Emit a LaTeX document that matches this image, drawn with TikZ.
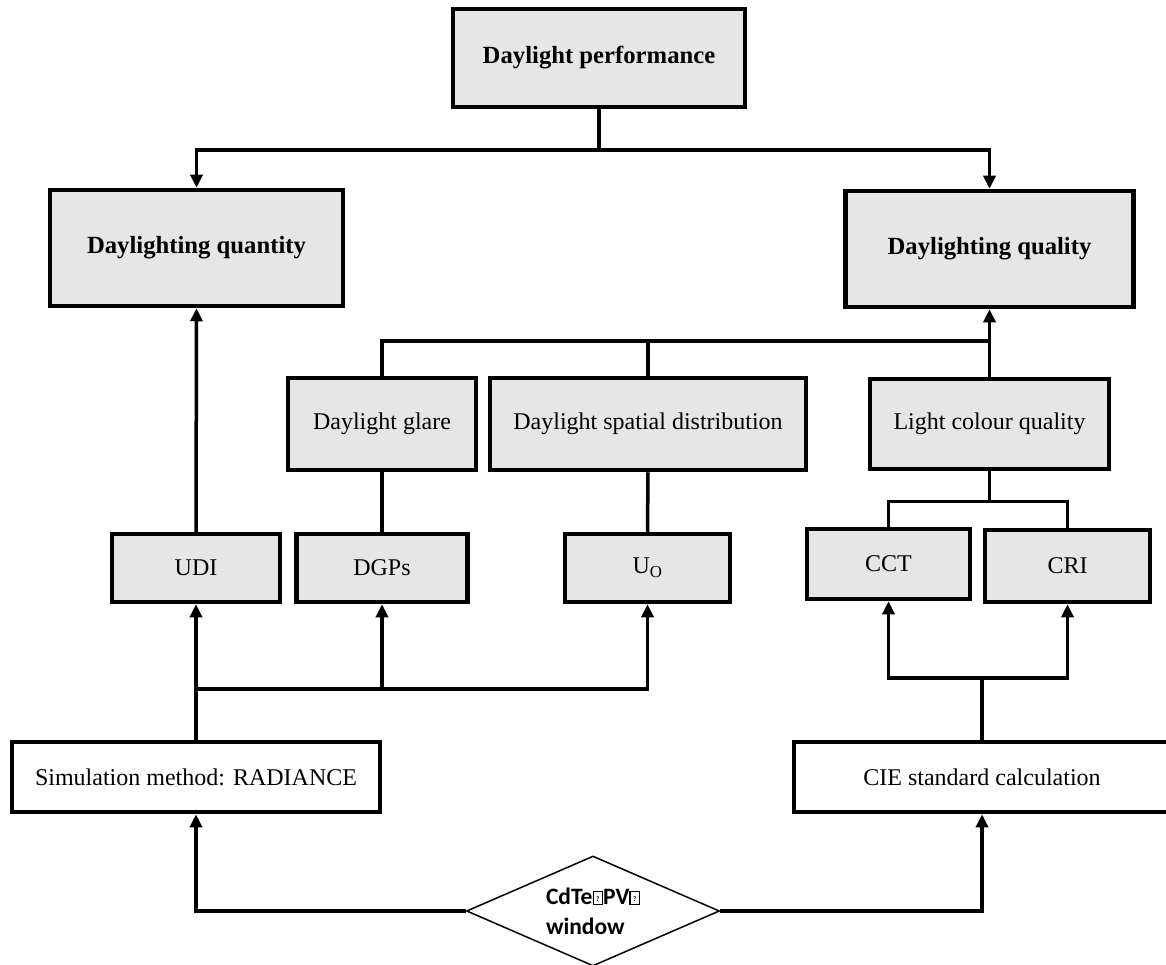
\documentclass[tikz,border=0pt]{standalone}
\usepackage{fontspec}
\setmainfont{Liberation Serif}
\newfontfamily\calfont{Carlito}
\usetikzlibrary{arrows.meta,shapes.geometric,calc}
\definecolor{boxgray}{RGB}{230,230,230}
\newcommand{\tofu}{{\setlength{\fboxsep}{0pt}\setlength{\fboxrule}{1.3pt}\fbox{\makebox[8pt][c]{\rule{0pt}{12pt}\raisebox{2.5pt}{\fontsize{7}{7}\selectfont ?}}}}}
\tikzset{
  gbox/.style={draw, line width=4.5pt, fill=boxgray, inner sep=0pt, font=\fontsize{24}{28}\selectfont},
  hbox/.style={gbox, font=\bfseries\fontsize{24.7}{28}\selectfont},
  wbox/.style={gbox, fill=white},
  conn/.style={line width=3.5pt},
  arr/.style={conn, -{Triangle[width=12pt,length=13pt]}}
}
\begin{document}
\begin{tikzpicture}[x=1pt,y=-1pt]
\useasboundingbox (0,0) rectangle (1166,965);
% nodes
\node[hbox, minimum width=292pt, minimum height=98pt] (perf) at (599,58) {Daylight performance};
\node[hbox, minimum width=293pt, minimum height=116pt] (quant) at (196.5,248) {Daylighting quantity};
\node[hbox, minimum width=288pt, minimum height=116pt] (qual) at (989.5,249) {Daylighting quality};
\node[gbox, minimum width=188pt, minimum height=92pt] (glare) at (382,424) {Daylight glare};
\node[gbox, minimum width=316pt, minimum height=92pt] (spatial) at (648,424) {Daylight spatial distribution};
\node[gbox, minimum width=239pt, minimum height=90pt] (lcq) at (989.5,424) {Light colour quality};
\node[gbox, minimum width=168pt, minimum height=68pt] (udi) at (196,568) {UDI};
\node[gbox, minimum width=171pt, minimum height=68pt] (dgps) at (382,568) {DGPs};
\node[gbox, minimum width=165pt, minimum height=68pt] (uo) at (647.5,568) {U\textsubscript{O}};
\node[gbox, minimum width=163pt, minimum height=70pt] (cct) at (888.5,564) {CCT};
\node[gbox, minimum width=165pt, minimum height=72pt] (cri) at (1067.5,566) {CRI};
\node[wbox, minimum width=368pt, minimum height=70pt] (sim) at (196,777) {Simulation method: RADIANCE};
\node[wbox, minimum width=376pt, minimum height=70pt] (cie) at (982,777) {CIE standard calculation};
\node[diamond, shape aspect=2.3, draw, line width=1.5pt, fill=white, inner sep=0pt, minimum width=253pt, minimum height=110pt,
      align=left, font=\calfont\bfseries\fontsize{23.5}{30}\selectfont] (pv) at (593,911) {CdTe\tofu PV\tofu\\window};
% connectors
\draw[conn] (perf.south) -- ++(0,41) coordinate (j1);
\draw[arr] (j1) -| (quant.north);
\draw[arr] (j1) -| (qual.north);
\draw[arr] (udi.north) -- (quant.south);
\draw[arr] (lcq.north) -- (qual.south);
\coordinate (j2) at ($(lcq.north)+(0,-36)$);
\draw[conn] (glare.north) |- (j2);
\draw[conn] (spatial.north) -- (spatial.north |- j2);
\draw[conn] (glare.south) -- (dgps.north);
\draw[conn] (spatial.south) -- (uo.north);
\draw[conn] (lcq.south) -- ++(0,30) coordinate (j3);
\draw[conn] (cct.north) |- (j3) -| (cri.north);
\draw[conn] (sim.north) -- ++(0,-51) coordinate (j4);
\draw[arr] (j4) -- (udi.south);
\draw[arr] (j4) -| (dgps.south);
\draw[arr] (j4) -| (uo.south);
\draw[conn] (cie.north) -- ++(0,-62) coordinate (j5);
\draw[arr] (j5) -| (cct.south);
\draw[arr] (j5) -| (cri.south);
\draw[arr] (pv.west) -| (sim.south);
\draw[arr] (pv.east) -| (cie.south);
\end{tikzpicture}
\end{document}
